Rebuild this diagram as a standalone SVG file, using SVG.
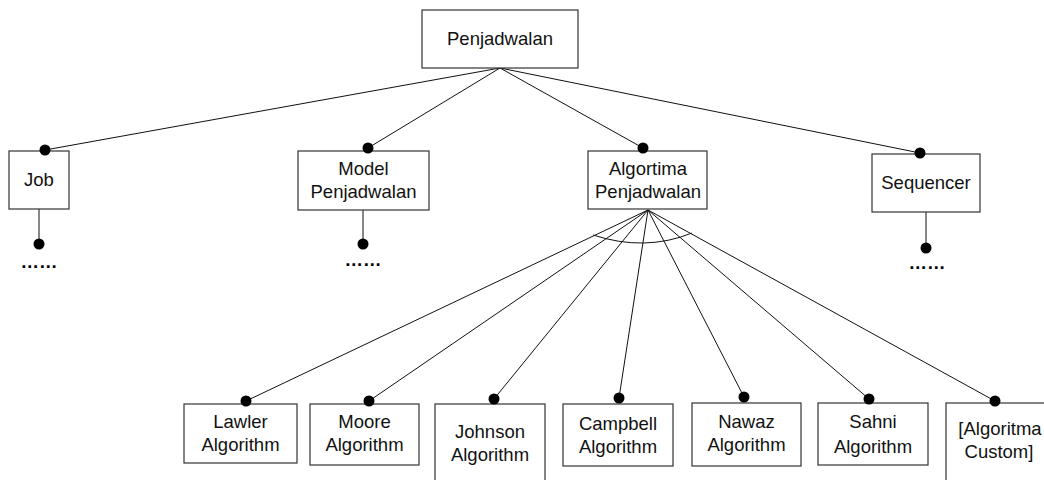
<svg xmlns="http://www.w3.org/2000/svg" width="1044" height="480" viewBox="0 0 1044 480">
<style>
.box{fill:#fff;stroke:#333;stroke-width:1.2}
.ln{stroke:#111;stroke-width:1;fill:none}
.dot{fill:#000}
.t{font-family:"Liberation Sans",Arial,sans-serif;font-size:18.5px;fill:#111;text-anchor:middle}
.el{font-family:"Liberation Sans",Arial,sans-serif;font-size:18.5px;font-weight:bold;fill:#000;text-anchor:middle}
</style>
<rect width="1044" height="480" fill="#fff"/>
<g id="connectors">
<line class="ln" x1="500" y1="68" x2="45" y2="150"/>
<line class="ln" x1="500" y1="68" x2="368" y2="148"/>
<line class="ln" x1="500" y1="68" x2="643" y2="148"/>
<line class="ln" x1="500" y1="68" x2="920" y2="153"/>
<line class="ln" x1="39" y1="209" x2="39" y2="244"/>
<line class="ln" x1="363" y1="210" x2="363" y2="244"/>
<line class="ln" x1="926" y1="212" x2="926" y2="248"/>
<line class="ln" x1="648" y1="210" x2="246" y2="401"/>
<line class="ln" x1="648" y1="210" x2="369" y2="401"/>
<line class="ln" x1="648" y1="210" x2="494" y2="399"/>
<line class="ln" x1="648" y1="210" x2="619" y2="398"/>
<line class="ln" x1="648" y1="210" x2="744" y2="397"/>
<line class="ln" x1="648" y1="210" x2="869" y2="399"/>
<line class="ln" x1="648" y1="210" x2="995" y2="401"/>
<path class="ln" d="M593,235 Q645,252 692,233"/>
</g>
<g id="penjadwalan">
<rect class="box" x="422" y="10" width="156" height="58"/>
<text class="t" x="500" y="45">Penjadwalan</text>
</g>
<g id="job">
<rect class="box" x="9" y="151" width="60" height="58"/>
<text class="t" x="39" y="186">Job</text>
<circle class="dot" cx="45" cy="150" r="5.5"/>
<circle class="dot" cx="39" cy="244" r="5.5"/>
<text class="el" x="39" y="268">……</text>
</g>
<g id="model">
<rect class="box" x="298" y="151" width="131" height="59"/>
<text class="t" x="363.5" y="175">Model</text>
<text class="t" x="363.5" y="198">Penjadwalan</text>
<circle class="dot" cx="368" cy="148" r="5.5"/>
<circle class="dot" cx="363" cy="244" r="5.5"/>
<text class="el" x="363" y="266">……</text>
</g>
<g id="algoritma">
<rect class="box" x="588" y="151" width="119" height="58"/>
<text class="t" x="648" y="175">Algortima</text>
<text class="t" x="648" y="198">Penjadwalan</text>
<circle class="dot" cx="643" cy="148" r="5.5"/>
</g>
<g id="sequencer">
<rect class="box" x="872" y="154" width="108" height="58"/>
<text class="t" x="926" y="189">Sequencer</text>
<circle class="dot" cx="920" cy="153" r="5.5"/>
<circle class="dot" cx="926" cy="248" r="5.5"/>
<text class="el" x="927" y="269">……</text>
</g>
<g id="lawler">
<rect class="box" x="184" y="404" width="113" height="59"/>
<text class="t" x="240.5" y="428">Lawler</text>
<text class="t" x="240.5" y="451">Algorithm</text>
<circle class="dot" cx="246" cy="401" r="5.5"/>
</g>
<g id="moore">
<rect class="box" x="310" y="404" width="109" height="61"/>
<text class="t" x="364.5" y="428">Moore</text>
<text class="t" x="364.5" y="451">Algorithm</text>
<circle class="dot" cx="369" cy="401" r="5.5"/>
</g>
<g id="johnson">
<rect class="box" x="435" y="404" width="110" height="84"/>
<text class="t" x="490" y="438">Johnson</text>
<text class="t" x="490" y="461">Algorithm</text>
<circle class="dot" cx="494" cy="399" r="5.5"/>
</g>
<g id="campbell">
<rect class="box" x="563" y="404" width="110" height="62"/>
<text class="t" x="618" y="430">Campbell</text>
<text class="t" x="618" y="453">Algorithm</text>
<circle class="dot" cx="619" cy="398" r="5.5"/>
</g>
<g id="nawaz">
<rect class="box" x="692" y="403" width="109" height="63"/>
<text class="t" x="746.5" y="428">Nawaz</text>
<text class="t" x="746.5" y="451">Algorithm</text>
<circle class="dot" cx="744" cy="397" r="5.5"/>
</g>
<g id="sahni">
<rect class="box" x="818" y="403" width="110" height="62"/>
<text class="t" x="873" y="428">Sahni</text>
<text class="t" x="873" y="453">Algorithm</text>
<circle class="dot" cx="869" cy="399" r="5.5"/>
</g>
<g id="custom">
<rect class="box" x="946" y="403" width="110" height="84"/>
<text class="t" x="1000" y="435">[Algoritma</text>
<text class="t" x="999" y="458">Custom]</text>
<circle class="dot" cx="995" cy="401" r="5.5"/>
</g>
</svg>
